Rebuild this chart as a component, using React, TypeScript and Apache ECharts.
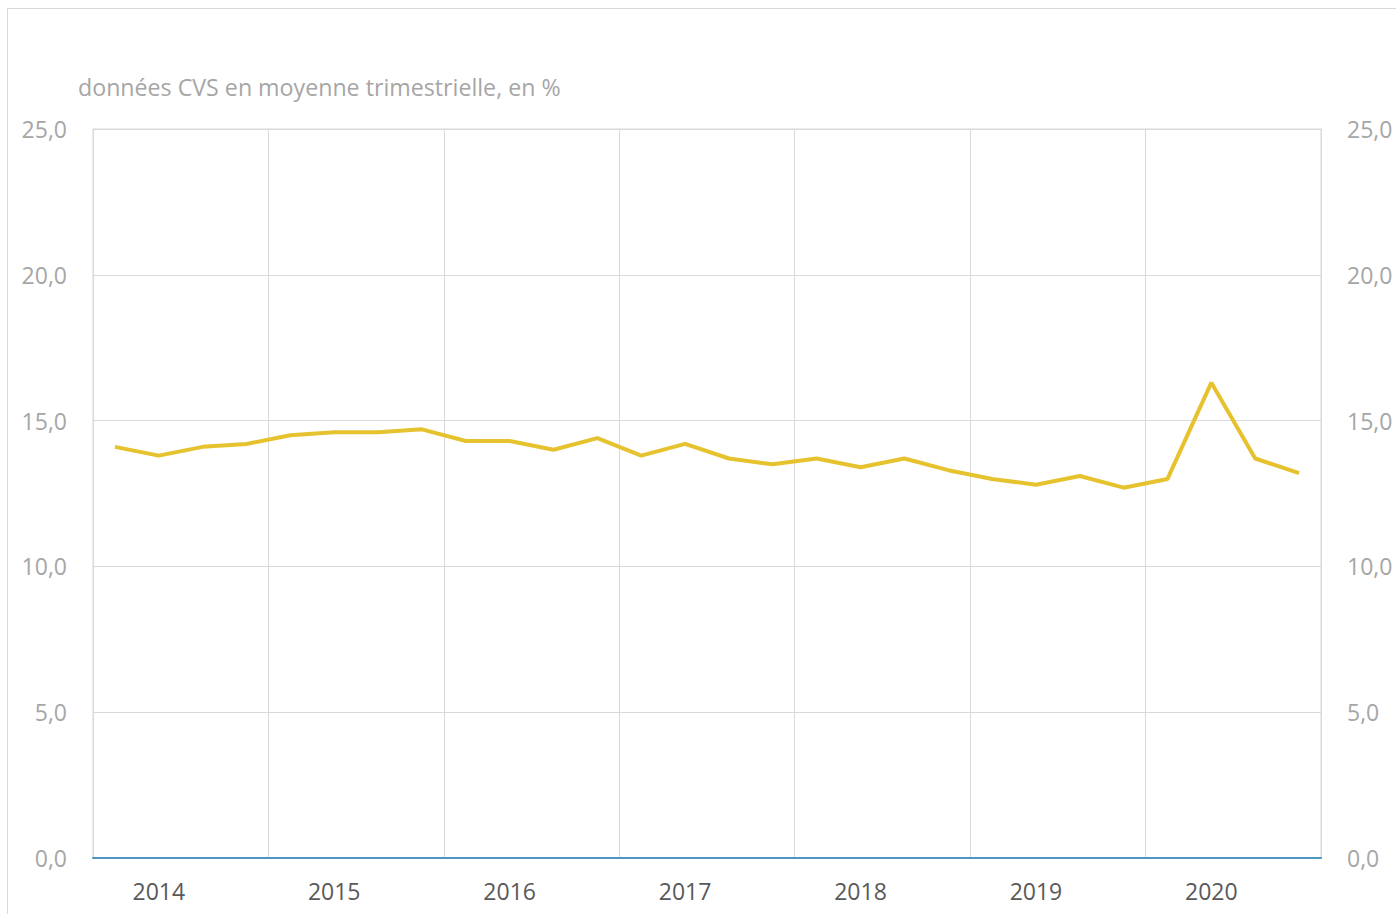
import React, { useEffect, useRef } from "react";
import * as echarts from "echarts";

const years = ["2014", "2015", "2016", "2017", "2018", "2019", "2020"];
const quarters = ["T1", "T2", "T3", "T4"];
const categories: string[] = years.flatMap((y) => quarters.map((q) => `${y} ${q}`));
const values = [
  14.1, 13.8, 14.1, 14.2,
  14.5, 14.6, 14.6, 14.7,
  14.3, 14.3, 14.0, 14.4,
  13.8, 14.2, 13.7, 13.5,
  13.7, 13.4, 13.7, 13.3,
  13.0, 12.8, 13.1, 12.7,
  13.0, 16.3, 13.7, 13.2,
];
const subtitle = "données CVS en moyenne trimestrielle, en %";

const FONT = "Open Sans";
const fmt = (v: number) => v.toFixed(1).replace(".", ",");

export default function App() {
  const ref = useRef<HTMLDivElement>(null);
  useEffect(() => {
    const chart = echarts.init(ref.current!, null, { renderer: "svg" });
    const yAxisBase = {
      type: "value" as const,
      min: 0,
      max: 25,
      interval: 5,
      axisTick: { show: false },
      axisLine: { show: true, lineStyle: { color: "#d9d9d9", width: 1 } },
      axisLabel: {
        formatter: (v: number) => fmt(v),
        color: "#a6a6a6",
        fontFamily: FONT,
        fontSize: 23,
        margin: 26,
      },
    };
    chart.setOption({
      animation: false,
      backgroundColor: "#ffffff",
      graphic: [
        {
          type: "rect",
          shape: { x: 7.5, y: 8.5, width: 1420, height: 940 },
          style: { fill: "none", stroke: "#d9d9d9", lineWidth: 1 },
          silent: true,
        },
        {
          type: "text",
          left: 78,
          top: 75,
          style: { text: subtitle, fill: "#a6a6a6", font: `23.2px "${FONT}"` },
        },
      ],
      grid: {
        left: 93,
        right: 75,
        top: 129,
        height: 729,
        show: true,
        borderColor: "#d9d9d9",
        borderWidth: 1,
      },
      xAxis: {
        type: "category",
        data: categories,
        boundaryGap: true,
        axisTick: { show: false },
        axisLine: { show: true, lineStyle: { color: "#4f95c1", width: 2 } },
        splitLine: {
          show: true,
          interval: (i: number) => i % 4 === 0 && i > 0,
          lineStyle: { color: "#d9d9d9", width: 1 },
        },
        axisLabel: {
          interval: 0,
          formatter: (v: string, i: number) => (i % 4 === 1 ? v.slice(0, 4) : ""),
          color: "#595959",
          fontFamily: FONT,
          fontSize: 23,
          margin: 21,
        },
      },
      yAxis: [
        {
          ...yAxisBase,
          position: "left",
          splitLine: { show: true, lineStyle: { color: "#d9d9d9", width: 1 } },
        },
        {
          ...yAxisBase,
          position: "right",
          splitLine: { show: false },
        },
      ],
      series: [
        {
          type: "line",
          data: values,
          yAxisIndex: 0,
          showSymbol: false,
          symbol: "none",
          lineStyle: { color: "#e5c22e", width: 4 },
          z: 5,
        },
      ],
    });
    return () => chart.dispose();
  }, []);
  return (
    <div
      ref={ref}
      style={{ position: "absolute", left: 0, top: 0, width: 1396, height: 914 }}
    />
  );
}
